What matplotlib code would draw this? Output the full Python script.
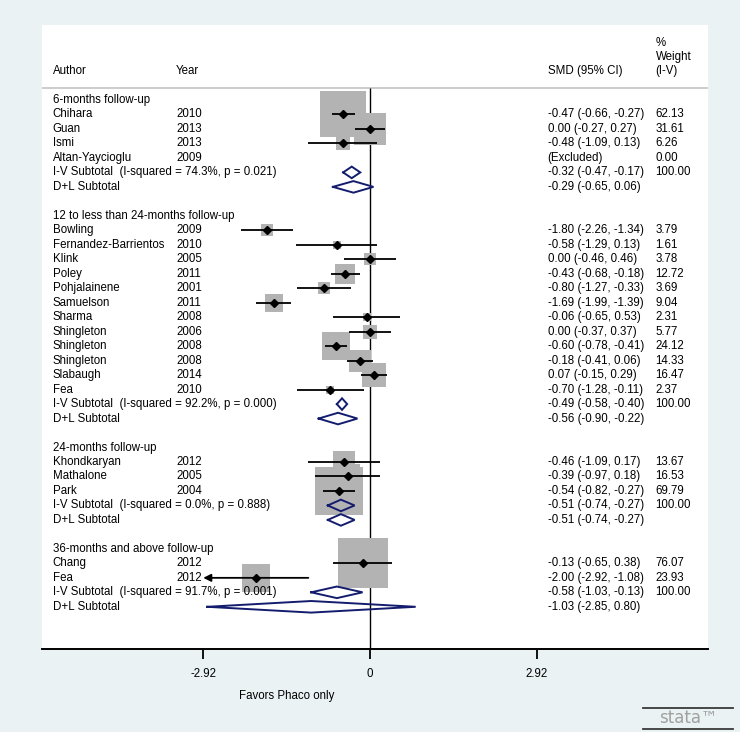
import matplotlib
matplotlib.use('Agg')
import matplotlib.pyplot as plt
from matplotlib.lines import Line2D

plt.rcParams['font.family'] = ['Liberation Sans', 'DejaVu Sans']
plt.rcParams['axes.unicode_minus'] = False

# ---------------- data ----------------
groups = ["6-months follow-up",
          "12 to less than 24-months follow-up",
          "24-months follow-up",
          "36-months and above follow-up"]

g1_authors = ["Chihara", "Guan", "Ismi", "Altan-Yaycioglu"]
g1_years = ["2010", "2013", "2013", "2009"]
g1_smd = [-0.47, 0.00, -0.48, None]
g1_lo = [-0.66, -0.27, -1.09, None]
g1_hi = [-0.27, 0.27, 0.13, None]
g1_w = [62.13, 31.61, 6.26, 0.00]

g2_authors = ["Bowling", "Fernandez-Barrientos", "Klink", "Poley", "Pohjalainene",
              "Samuelson", "Sharma", "Shingleton", "Shingleton", "Shingleton",
              "Slabaugh", "Fea"]
g2_years = ["2009", "2010", "2005", "2011", "2001", "2011", "2008", "2006",
            "2008", "2008", "2014", "2010"]
g2_smd = [-1.80, -0.58, 0.00, -0.43, -0.80, -1.69, -0.06, 0.00, -0.60, -0.18, 0.07, -0.70]
g2_lo = [-2.26, -1.29, -0.46, -0.68, -1.27, -1.99, -0.65, -0.37, -0.78, -0.41, -0.15, -1.28]
g2_hi = [-1.34, 0.13, 0.46, -0.18, -0.33, -1.39, 0.53, 0.37, -0.41, 0.06, 0.29, -0.11]
g2_w = [3.79, 1.61, 3.78, 12.72, 3.69, 9.04, 2.31, 5.77, 24.12, 14.33, 16.47, 2.37]

g3_authors = ["Khondkaryan", "Mathalone", "Park"]
g3_years = ["2012", "2005", "2004"]
g3_smd = [-0.46, -0.39, -0.54]
g3_lo = [-1.09, -0.97, -0.82]
g3_hi = [0.17, 0.18, -0.27]
g3_w = [13.67, 16.53, 69.79]

g4_authors = ["Chang", "Fea"]
g4_years = ["2012", "2012"]
g4_smd = [-0.13, -2.00]
g4_lo = [-0.65, -2.92]
g4_hi = [0.38, -1.08]
g4_w = [76.07, 23.93]

iv_het = ["I-squared = 74.3%, p = 0.021", "I-squared = 92.2%, p = 0.000",
          "I-squared = 0.0%, p = 0.888", "I-squared = 91.7%, p = 0.001"]
iv_est = [-0.32, -0.49, -0.51, -0.58]
iv_lo = [-0.47, -0.58, -0.74, -1.03]
iv_hi = [-0.17, -0.40, -0.27, -0.13]
dl_est = [-0.29, -0.56, -0.51, -1.03]
dl_lo = [-0.65, -0.90, -0.74, -2.85]
dl_hi = [0.06, -0.22, -0.27, 0.80]

xticks = [-2.92, 0, 2.92]
xtick_labels = ["-2.92", "0", "2.92"]
xlabel = "Favors Phaco only"

studies = [
    (g1_authors, g1_years, g1_smd, g1_lo, g1_hi, g1_w),
    (g2_authors, g2_years, g2_smd, g2_lo, g2_hi, g2_w),
    (g3_authors, g3_years, g3_smd, g3_lo, g3_hi, g3_w),
    (g4_authors, g4_years, g4_smd, g4_lo, g4_hi, g4_w),
]

# ---------------- layout ----------------
W, H = 740, 732
ROW0, ROWH = 100.0, 14.48         # pixel y of first row, row spacing
PX0, PXU = 370.0, 57.1            # pixel x of zero, pixels per unit
PL, PR, PT, PB = 41.7, 708.0, 25.0, 649.0


def rpx(py):
    return (py - ROW0) / ROWH


def xpx(px):
    return (px - PX0) / PXU


FS = 8.3
BG = '#EAF2F3'
BOXC = '#B3B3B3'
NAVY = '#141C6E'

fig = plt.figure(figsize=(W / 100, H / 100), dpi=100, facecolor=BG)
ax = fig.add_axes([PL / W, 1 - PB / H, (PR - PL) / W, (PB - PT) / H])
ax.set_facecolor('white')
ax.set_xlim(xpx(PL), xpx(PR))
ax.set_ylim(rpx(PB), rpx(PT))

X_AUTH, X_YEAR, X_SMD, X_W = xpx(52.7), xpx(176), xpx(547.7), xpx(655.5)

# header
hy = rpx(71)
ax.text(X_AUTH, hy, "Author", fontsize=FS, va='center')
ax.text(X_YEAR, hy, "Year", fontsize=FS, va='center')
ax.text(X_SMD, hy, "SMD (95% CI)", fontsize=FS, va='center')
ax.text(X_W, rpx(42.5), "%", fontsize=FS, va='center')
ax.text(X_W, rpx(56.5), "Weight", fontsize=FS, va='center')
ax.text(X_W, hy, "(I-V)", fontsize=FS, va='center')
header_line = rpx(88)
ax.axhline(header_line, color='#C4C4C4', lw=1.2, zorder=1)
ax.plot([0, 0], [header_line, rpx(PB)], color='black', lw=1.0, zorder=1,
        solid_capstyle='butt')

LIM = xticks[-1]


def diamond(est, lo, hi, r, h=0.40):
    ax.plot([lo, est, hi, est, lo], [r, r - h, r, r + h, r], color=NAVY,
            lw=1.4, zorder=5, solid_joinstyle='miter')


def smd_text(e, l, h):
    return f"{e:.2f} ({l:.2f}, {h:.2f})"


row = 0
for gi, (auth, yrs, smd, lo, hi, w) in enumerate(studies):
    ax.text(X_AUTH, row, groups[gi], fontsize=FS, va='center')
    row += 1
    for a, y, e, l, h, wt in zip(auth, yrs, smd, lo, hi, w):
        ax.text(X_AUTH, row, a, fontsize=FS, va='center')
        ax.text(X_YEAR, row, y, fontsize=FS, va='center')
        if e is None:
            ax.text(X_SMD, row, "(Excluded)", fontsize=FS, va='center')
        else:
            ax.text(X_SMD, row, smd_text(e, l, h), fontsize=FS, va='center')
            ax.scatter([e], [row], s=17.5 * wt, marker='s', color=BOXC,
                       linewidths=0, zorder=2)
            if l <= -LIM:
                ax.annotate('', xy=(-LIM, row), xytext=(h, row),
                            arrowprops=dict(arrowstyle='-|>', color='black',
                                            lw=1.3, mutation_scale=11,
                                            shrinkA=0, shrinkB=0), zorder=4)
            else:
                ax.plot([l, h], [row, row], color='black', lw=1.3, zorder=4,
                        solid_capstyle='butt')
            ax.plot([e], [row], marker='D', color='black', markersize=4.2,
                    zorder=4)
        ax.text(X_W, row, f"{wt:.2f}", fontsize=FS, va='center')
        row += 1
    ax.text(X_AUTH, row, f"I-V Subtotal  ({iv_het[gi]})", fontsize=FS, va='center')
    ax.text(X_SMD, row, smd_text(iv_est[gi], iv_lo[gi], iv_hi[gi]), fontsize=FS, va='center')
    ax.text(X_W, row, "100.00", fontsize=FS, va='center')
    diamond(iv_est[gi], iv_lo[gi], iv_hi[gi], row)
    row += 1
    ax.text(X_AUTH, row, "D+L Subtotal", fontsize=FS, va='center')
    ax.text(X_SMD, row, smd_text(dl_est[gi], dl_lo[gi], dl_hi[gi]), fontsize=FS, va='center')
    diamond(dl_est[gi], dl_lo[gi], dl_hi[gi], row)
    row += 2

# axis
for s in ['top', 'left', 'right']:
    ax.spines[s].set_visible(False)
ax.spines['bottom'].set_linewidth(1.4)
ax.set_yticks([])
ax.set_xticks(xticks)
ax.set_xticklabels(xtick_labels, fontsize=FS)
ax.tick_params(axis='x', direction='out', length=7.5, width=1.3, pad=6)
ax.text((xticks[0] + xticks[1]) / 2, rpx(696), xlabel, fontsize=FS,
        ha='center', va='center')

# stata logo
for ly in (708, 728.5):
    fig.add_artist(Line2D([643 / W, 733 / W], [1 - ly / H, 1 - ly / H],
                          color='#3a3a3a', lw=1.3, transform=fig.transFigure))
fig.text(688 / W, 1 - 718 / H, "stata\u2122", fontsize=12, color='#a0a0a0',
         ha='center', va='center', family=['DejaVu Sans', 'Liberation Sans'])

fig.savefig('out.png', dpi=100, facecolor=BG)
